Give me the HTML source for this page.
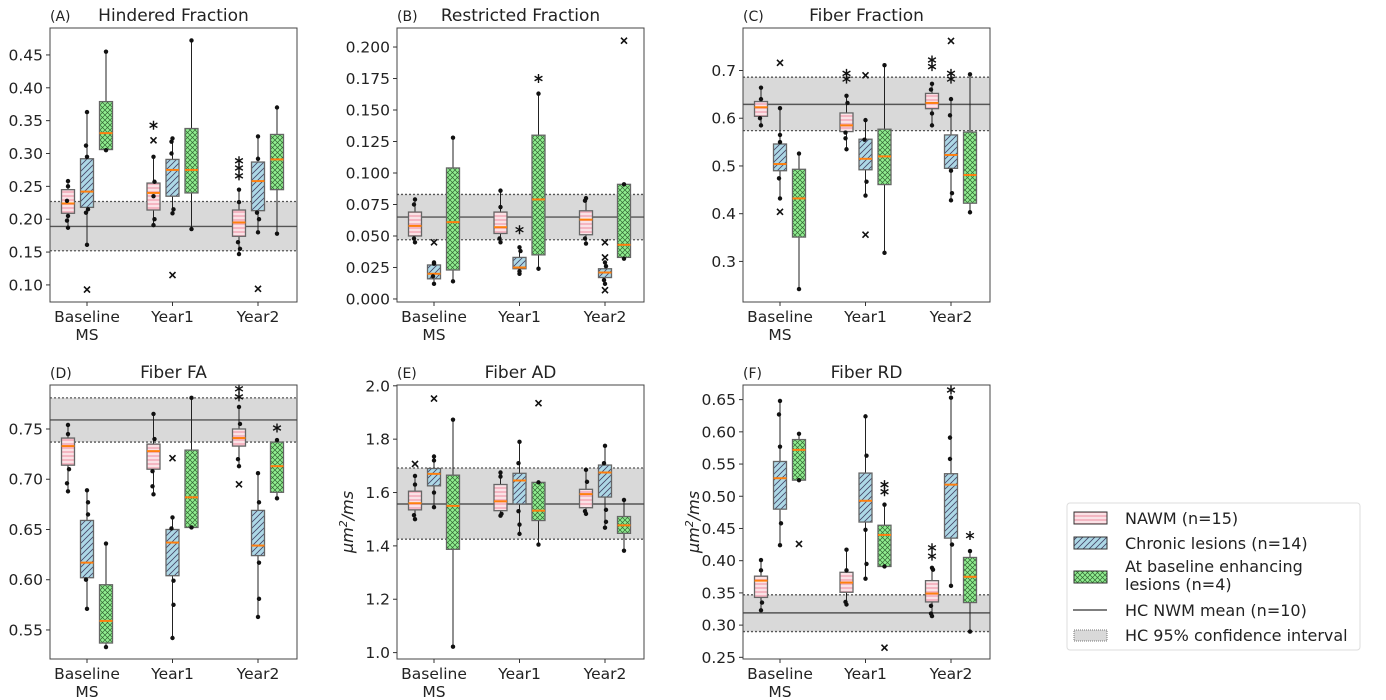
<!DOCTYPE html>
<html><head><meta charset="utf-8">
<style>
body{margin:0;background:#fff;}
svg{display:block;font-family:"DejaVu Sans","Liberation Sans",sans-serif;}
</style></head>
<body>
<svg id="chart" width="1386" height="700" viewBox="0 0 1386 700" xmlns="http://www.w3.org/2000/svg">
<defs>
<pattern id="pNAWM" patternUnits="userSpaceOnUse" width="6" height="4"><rect width="6" height="4" fill="#f4b6c2"/><line x1="0" y1="2" x2="6" y2="2" stroke="#fff" stroke-width="1.2"/></pattern>
<pattern id="pChronic" patternUnits="userSpaceOnUse" width="6" height="6"><rect width="6" height="6" fill="#add8e6"/><path d="M0,6 L6,0 M-1,1 L1,-1 M5,7 L7,5" stroke="#446" stroke-width="0.8"/></pattern>
<pattern id="pGreen" patternUnits="userSpaceOnUse" width="5" height="5"><rect width="5" height="5" fill="#90ee90"/><path d="M0,0 L5,5 M5,0 L0,5" stroke="#363" stroke-width="0.7"/></pattern>
<pattern id="pCI" patternUnits="userSpaceOnUse" width="4" height="4"><rect width="4" height="4" fill="#d9d9d9"/></pattern>
</defs>
<g id="plots"></g>
<g>
<rect x="1067" y="503" width="293" height="147" rx="3" fill="#fff" stroke="#ddd"/>
<rect x="1074" y="512" width="33" height="12" fill="url(#pNAWM)" stroke="#333"/>
<text x="1125" y="524" font-size="16" fill="#222">NAWM (n=15)</text>
<rect x="1074" y="537" width="33" height="12" fill="url(#pChronic)" stroke="#333"/>
<text x="1125" y="549" font-size="16" fill="#222">Chronic lesions (n=14)</text>
<rect x="1074" y="571" width="33" height="12" fill="url(#pGreen)" stroke="#333"/>
<text x="1125" y="572" font-size="16" fill="#222">At baseline enhancing</text>
<text x="1125" y="590" font-size="16" fill="#222">lesions (n=4)</text>
<line x1="1073" y1="610" x2="1107" y2="610" stroke="#333" stroke-width="1.2"/>
<text x="1125" y="616" font-size="16" fill="#222">HC NWM mean (n=10)</text>
<rect x="1074" y="630" width="33" height="11" fill="#d9d9d9" stroke="#777" stroke-dasharray="1,1"/>
<text x="1125" y="641" font-size="16" fill="#222">HC 95% confidence interval</text>
</g>
</svg>
<script>
// Panel metadata
const panelTitles = ["Hindered Fraction","Restricted Fraction","Fiber Fraction","Fiber FA","Fiber AD","Fiber RD"];
const panelLetters = ["(A)","(B)","(C)","(D)","(E)","(F)"];
const categories = ["Baseline|MS","Year1","Year2"];
const groups = ["NAWM","Chronic","Enhancing"];
const yTicksA = [0.10,0.15,0.20,0.25,0.30,0.35,0.40,0.45];
const yTicksB = [0.000,0.025,0.050,0.075,0.100,0.125,0.150,0.175,0.200];
const yTicksC = [0.3,0.4,0.5,0.6,0.7];
const yTicksD = [0.55,0.60,0.65,0.70,0.75];
const yTicksE = [1.0,1.2,1.4,1.6,1.8,2.0];
const yTicksF = [0.25,0.30,0.35,0.40,0.45,0.50,0.55,0.60,0.65];
const yDecimals = [2,3,1,2,1,2];
const yDomains = [[0.074,0.491],[-0.0024,0.2151],[0.215,0.789],[0.5211,0.7938],[0.976,2.003],[0.2474,0.6727]];
// HC reference: [mean, ciLow, ciHigh]
const hcRef = [[0.189,0.152,0.227],[0.065,0.047,0.083],[0.629,0.574,0.686],[0.759,0.737,0.781],[1.557,1.425,1.692],[0.319,0.290,0.347]];
// Box stats per panel: for each category, for each group: [whisLo, q1, med, q3, whisHi]
const statsA = [[[0.187,0.209,0.224,0.245,0.258],[0.161,0.218,0.242,0.292,0.363],[0.305,0.306,0.331,0.379,0.455]],
 [[0.191,0.214,0.240,0.255,0.295],[0.209,0.235,0.275,0.291,0.323],[0.185,0.240,0.275,0.338,0.472]],
 [[0.147,0.174,0.195,0.214,0.245],[0.180,0.213,0.258,0.287,0.326],[0.178,0.245,0.291,0.329,0.370]]];
const statsB = [[[0.045,0.050,0.058,0.069,0.079],[0.012,0.016,0.020,0.027,0.029],[0.014,0.023,0.061,0.104,0.128]],
 [[0.045,0.052,0.057,0.069,0.086],[0.020,0.024,0.025,0.033,0.041],[0.024,0.035,0.079,0.130,0.163]],
 [[0.044,0.051,0.063,0.070,0.080],[0.012,0.017,0.021,0.024,0.029],[0.032,0.033,0.043,0.091,0.091]]];
const statsC = [[[0.585,0.604,0.623,0.635,0.664],[0.432,0.490,0.504,0.546,0.621],[0.242,0.351,0.432,0.493,0.526]],
 [[0.535,0.572,0.585,0.611,0.647],[0.438,0.492,0.515,0.556,0.596],[0.318,0.461,0.520,0.577,0.711]],
 [[0.585,0.620,0.632,0.652,0.672],[0.428,0.495,0.523,0.565,0.640],[0.403,0.422,0.481,0.571,0.692]]];
const statsD = [[[0.688,0.714,0.733,0.741,0.754],[0.571,0.602,0.617,0.659,0.689],[0.533,0.537,0.559,0.595,0.636]],
 [[0.685,0.710,0.728,0.735,0.765],[0.542,0.604,0.637,0.650,0.662],[0.652,0.652,0.682,0.729,0.781]],
 [[0.713,0.733,0.741,0.750,0.772],[0.563,0.624,0.634,0.669,0.706],[0.681,0.687,0.713,0.737,0.739]]];
const statsE = [[[1.500,1.535,1.560,1.605,1.662],[1.545,1.625,1.670,1.690,1.735],[1.022,1.387,1.550,1.665,1.873]],
 [[1.513,1.532,1.567,1.630,1.675],[1.445,1.557,1.645,1.672,1.790],[1.405,1.495,1.532,1.638,1.638]],
 [[1.520,1.543,1.594,1.612,1.685],[1.468,1.583,1.675,1.703,1.775],[1.382,1.447,1.477,1.510,1.572]]];
const statsF = [[[0.323,0.343,0.369,0.376,0.401],[0.424,0.480,0.528,0.554,0.648],[0.525,0.525,0.572,0.588,0.597]],
 [[0.332,0.351,0.366,0.382,0.417],[0.372,0.460,0.493,0.536,0.624],[0.391,0.391,0.440,0.455,0.487]],
 [[0.314,0.336,0.349,0.369,0.389],[0.361,0.435,0.518,0.535,0.653],[0.290,0.335,0.375,0.405,0.415]]];
// Extra data points per panel: [category, group, value]
const pointsA = [[0,0,0.198],[0,0,0.205],[0,0,0.228],[0,0,0.250],[0,1,0.210],[0,1,0.215],[0,1,0.295],[0,1,0.312],[1,0,0.200],[1,0,0.235],[1,0,0.257],[1,1,0.215],[1,1,0.300],[1,1,0.318],[2,0,0.155],[2,0,0.165],[2,0,0.226],[2,1,0.200],[2,1,0.210],[2,1,0.292]];
const pointsB = [[0,0,0.048],[0,0,0.075],[0,1,0.018],[0,1,0.028],[1,0,0.048],[1,0,0.073],[1,1,0.022],[1,1,0.038],[2,0,0.048],[2,0,0.078],[2,1,0.015],[2,1,0.026]];
const pointsC = [[0,0,0.600],[0,0,0.640],[0,1,0.474],[0,1,0.550],[0,1,0.565],[1,0,0.558],[1,0,0.570],[1,0,0.632],[1,1,0.467],[1,1,0.555],[2,0,0.610],[2,0,0.660],[2,1,0.443],[2,1,0.490],[2,1,0.606]];
const pointsD = [[0,0,0.696],[0,0,0.710],[0,0,0.745],[0,1,0.600],[0,1,0.665],[0,1,0.677],[1,0,0.693],[1,0,0.708],[1,0,0.740],[1,1,0.575],[1,1,0.599],[1,1,0.651],[2,0,0.720],[2,0,0.755],[2,1,0.617],[2,1,0.581],[2,1,0.677]];
const pointsE = [[0,0,1.515],[0,0,1.630],[0,1,1.600],[0,1,1.720],[1,0,1.520],[1,0,1.660],[1,1,1.480],[1,1,1.530],[1,1,1.710],[2,0,1.530],[2,0,1.640],[2,1,1.490],[2,1,1.535],[2,1,1.710]];
const pointsF = [[0,0,0.335],[0,0,0.385],[0,1,0.458],[0,1,0.577],[0,1,0.627],[1,0,0.336],[1,0,0.385],[1,1,0.395],[1,1,0.448],[1,1,0.563],[2,0,0.318],[2,0,0.330],[2,0,0.386],[2,1,0.425],[2,1,0.558],[2,1,0.591]];
// Outliers (x markers): [category, group, value]
const fliersA = [[0,1,0.093],[1,0,0.320],[1,1,0.115],[2,1,0.094]];
const fliersB = [[0,1,0.045],[2,1,0.045],[2,1,0.033],[2,1,0.007],[2,2,0.205]];
const fliersC = [[0,1,0.716],[0,1,0.404],[1,1,0.690],[1,1,0.356],[2,1,0.762]];
const fliersD = [[1,1,0.721],[2,0,0.695]];
const fliersE = [[0,0,1.707],[0,1,1.952],[1,2,1.935]];
const fliersF = [[0,2,0.426],[1,2,0.265]];
// Significance stars: [category, group, value]
const starsA = [[1,0,0.343],[2,0,0.266],[2,0,0.278],[2,0,0.289]];
const starsB = [[1,1,0.055],[1,2,0.175]];
const starsC = [[1,0,0.682],[1,0,0.694],[2,0,0.708],[2,0,0.722],[2,1,0.682],[2,1,0.694]];
const starsD = [[2,0,0.782],[2,0,0.790],[2,2,0.751]];
const starsE = [];
const starsF = [[1,2,0.507],[1,2,0.518],[2,0,0.407],[2,0,0.420],[2,1,0.665],[2,2,0.439]];

const allTicks=[yTicksA,yTicksB,yTicksC,yTicksD,yTicksE,yTicksF];
const allStats=[statsA,statsB,statsC,statsD,statsE,statsF];
const allPoints=[pointsA,pointsB,pointsC,pointsD,pointsE,pointsF];
const allFliers=[fliersA,fliersB,fliersC,fliersD,fliersE,fliersF];
const allStars=[starsA,starsB,starsC,starsD,starsE,starsF];
const fills=["url(#pNAWM)","url(#pChronic)","url(#pGreen)"];
const NS="http://www.w3.org/2000/svg";
const root=document.getElementById("plots");
function mk(tag,attrs,parent){const e=document.createElementNS(NS,tag);for(const k in attrs)e.setAttribute(k,attrs[k]);(parent||root).appendChild(e);return e;}

const lefts=[50,397,743], tops=[28,385], W=247, H=274;
for(let p=0;p<6;p++){
  const L=lefts[p%3], T=tops[Math.floor(p/3)], R=L+W, B=T+H;
  const [y0,y1]=yDomains[p];
  const ys=v=>B-(v-y0)/(y1-y0)*H;
  const xc=c=>L+37+c*85.5;
  const xg=(c,g)=>xc(c)+(g-1)*19;
  const g=mk("g",{});
  
  
  const ref=hcRef[p];
  const band=mk("rect",{x:L,y:ys(ref[2]),width:W,height:ys(ref[1])-ys(ref[2]),fill:"#d9d9d9"},g);
  
  
  for(const v of [ref[1],ref[2]]){const l=mk("line",{x1:L,x2:R,y1:ys(v),y2:ys(v),stroke:"#555","stroke-width":1.3,"stroke-dasharray":"2,2"},g);
    
    }
  const ml=mk("line",{x1:L,x2:R,y1:ys(ref[0]),y2:ys(ref[0]),stroke:"#555","stroke-width":1.4},g);
  
  
  // boxes
  allStats[p].forEach((cat,c)=>cat.forEach((s,gi)=>{
    const x=xg(c,gi);
    const wl=mk("line",{x1:x,x2:x,y1:ys(s[4]),y2:ys(s[0]),stroke:"#222","stroke-width":1},g);
    
    
    const bx=mk("rect",{x:x-6.5,y:ys(s[3]),width:13,height:Math.max(1,ys(s[1])-ys(s[3])),fill:fills[gi],stroke:"#666","stroke-width":1.3},g);
    
    
    const md=mk("line",{x1:x-6.5,x2:x+6.5,y1:ys(s[2]),y2:ys(s[2]),stroke:"#ff7f0e","stroke-width":2},g);
    
    
    for(const v of [s[0],s[4]]){const d=mk("circle",{cx:x,cy:ys(v),r:2.2,fill:"#111"},g);
      
      }
  }));
  allPoints[p].forEach(pt=>{const d=mk("circle",{cx:xg(pt[0],pt[1])+((pt[2]*1000)%3-1),cy:ys(pt[2]),r:2.2,fill:"#111"},g);
    
    });
  allFliers[p].forEach(f=>{const x=xg(f[0],f[1]),y=ys(f[2]);
    const fl=mk("path",{d:`M${x-3},${y-3}L${x+3},${y+3}M${x+3},${y-3}L${x-3},${y+3}`,stroke:"#111","stroke-width":1.6},g);
    
    });
  allStars[p].forEach(s=>{const x=xg(s[0],s[1]),y=ys(s[2]),r=4.5;
    let d="";for(let a=0;a<3;a++){const t=Math.PI/2+a*Math.PI/3;d+=`M${x-r*Math.cos(t)},${y-r*Math.sin(t)}L${x+r*Math.cos(t)},${y+r*Math.sin(t)}`;}
    const st=mk("path",{d:d,stroke:"#111","stroke-width":1.4},g);
    
    });
  // frame
  const fr=mk("rect",{x:L,y:T,width:W,height:H,fill:"none",stroke:"#444","stroke-width":1},g);
  
  
  // y ticks
  allTicks[p].forEach(v=>{const y=ys(v);
    mk("line",{x1:L-4,x2:L,y1:y,y2:y,stroke:"#333"},g);
    const t=mk("text",{x:L-7,y:y+5.5,"text-anchor":"end","font-size":15.5,fill:"#222"},g);
    t.textContent=v.toFixed(yDecimals[p]);
    
    });
  // x ticks
  categories.forEach((c,i)=>{const x=xc(i);
    mk("line",{x1:x,x2:x,y1:B,y2:B+4,stroke:"#333"},g);
    c.split("|").forEach((ln,k)=>{const t=mk("text",{x:x,y:B+20+k*18,"text-anchor":"middle","font-size":15.5,fill:"#222"},g);
      t.textContent=ln;
      
      });});
  const tt=mk("text",{x:L+W/2,y:T-7,"text-anchor":"middle","font-size":17,fill:"#222"},g);
  tt.textContent=panelTitles[p];
  
  
  const lt=mk("text",{x:L,y:T-7,"font-size":14,fill:"#222"},g);
  lt.textContent=panelLetters[p];
  
  
  if(p>=4){const yl=mk("text",{x:0,y:0,"text-anchor":"middle","font-size":16,fill:"#222","font-style":"italic",transform:`translate(${L-44},${T+H/2}) rotate(-90)`},g);
    yl.innerHTML='µm<tspan baseline-shift="super" font-size="11">2</tspan>/ms';
    
    }
}
</script>
</body></html>
